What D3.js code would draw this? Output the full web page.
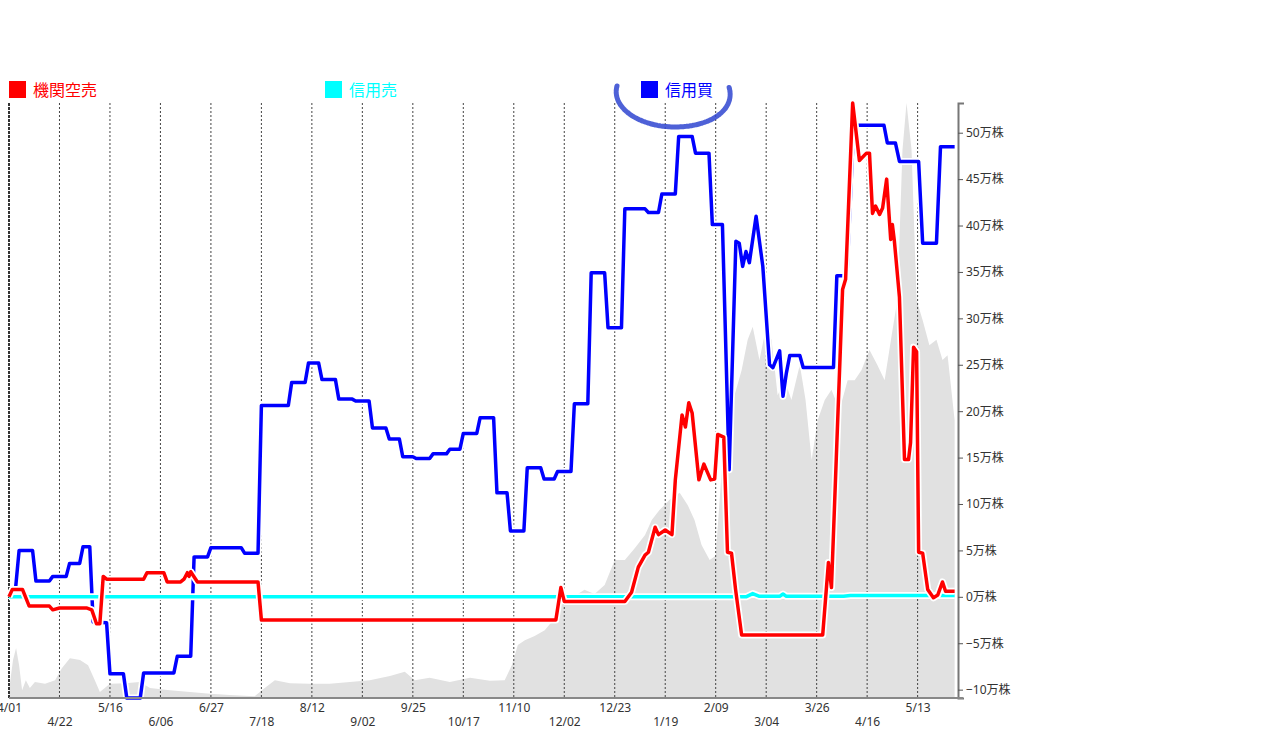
<!DOCTYPE html>
<html>
<head>
<meta charset="utf-8">
<script src="https://cdn.jsdelivr.net/npm/d3@7"></script>
<style>
  body { margin: 0; background: #fff; }
  text { font-family: "Noto Sans", "Noto Sans CJK JP", sans-serif; }
</style>
</head>
<body>
<div id="chart"></div>
<script>
// x = trading-day index from 4/01, y = 万株
const dateLabels = ["4/01","4/22","5/16","6/06","6/27","7/18","8/12","9/02","9/25","10/17",
                    "11/10","12/02","12/23","1/19","2/09","3/04","3/26","4/16","5/13"];
const dateIdx = [0,15,30,45,60,75,90,105,120,135,150,165,180,195,210,225,240,255,270];
const yTicks = [-10,-5,0,5,10,15,20,25,30,35,40,45,50];

const seriesNames = ["機関空売","信用売","信用買"];
const seriesColors = ["#ff0000","#00ffff","#0000ff"];

// 機関空売
const kikanSell = [
  [0,0],[1,0.8],[4,0.8],[6,-1.0],[12,-1.0],[13,-1.4],[15,-1.2],[23,-1.2],[24.6,-1.4],[26,-2.9],[27,-2.9],
  [28,2.2],[29,1.9],[40,1.9],[41,2.6],[46,2.6],[47,1.6],[51,1.6],[52,1.9],[53,2.6],[53.5,2.2],[54,2.7],
  [56,1.6],[74,1.6],[75,-2.5],[162.5,-2.5],[164,1.0],[165,-0.5],[183,-0.5],[185,0.5],[187,3.2],[189,4.5],
  [190,4.8],[192,7.5],[193,6.7],[195,7.2],[197,6.7],[198,12.6],[200,19.6],[201,18.3],[202,20.9],[203,19.8],
  [205,12.6],[206.5,14.3],[208.5,12.6],[209.7,12.7],[210.6,17.5],[212.4,17.2],[213.5,4.8],[214.7,4.7],
  [215.9,0.8],[217.7,-4.1],[241.8,-4.1],[243.5,3.7],[244.4,1.0],[247.7,33.1],[248.6,34.2],[250.7,53.2],
  [252.7,47.0],[254.8,47.8],[255.7,47.8],[256.6,41.3],[257.5,42.1],[258.7,41.2],[259.6,41.9],[260.8,45.0],
  [262.0,38.5],[262.5,40.1],[263.1,38.3],[264.6,32.3],[266.1,14.8],[267.3,14.8],[267.9,16.6],[268.8,26.9],
  [269.7,26.4],[270.3,4.8],[271.5,4.7],[273,0.8],[274.7,-0.1],[276,0.2],[277.4,1.6],[278.3,0.6],[281,0.6]
];

// 信用売
const shinyoSell = [
  [0,0],[219,0],[221,0.35],[223,0.05],[229,0.05],[230,0.3],[231,0.05],[248,0.05],[250,0.15],[281,0.15]
];

// 信用買
const shinyoBuy = [
  [2,1.1],[3,5.0],[7,5.0],[8,1.7],[12,1.7],[13,2.2],[17,2.2],[18,3.6],[21,3.6],[22,5.4],[24,5.4],
  [25,-2.7],[29,-2.8],[30,-8.3],[34,-8.3],[35,-10.9],[39,-10.9],[40,-8.2],[49,-8.2],[50,-6.4],[54,-6.4],
  [55,4.3],[59,4.3],[60,5.3],[69,5.3],[70,4.7],[74,4.7],[75,20.6],[83,20.6],[84,23.1],[88,23.1],[89,25.2],
  [92,25.2],[93,23.4],[97,23.4],[98,21.3],[102,21.3],[103,21.1],[107,21.1],[108,18.2],[112,18.2],[113,17.0],
  [116,17.0],[117,15.1],[120,15.1],[121,14.9],[125,14.9],[126,15.4],[130,15.4],[131,15.9],[134,15.9],
  [135,17.6],[139,17.6],[140,19.3],[144,19.3],[145,11.2],[148,11.2],[149,7.1],[153,7.1],[154,13.9],
  [158,13.9],[159,12.7],[162,12.7],[163,13.5],[167,13.5],[168,20.8],[172,20.8],[173,34.9],[177,34.9],
  [178,29.0],[182,29.0],[183,41.8],[189,41.8],[190,41.4],[193,41.4],[194,43.4],[198,43.4],[199,49.6],
  [203,49.6],[204,47.8],[208,47.8],[209,40.1],[212,40.1],[214,13.7],[216,38.3],[217,38.1],[218,35.6],
  [219,37.2],[220,36.0],[222,41.0],[224,35.6],[226,25.0],[227,24.7],[229,26.5],[230,21.6],[231,24.1],
  [232,26.0],[235,26.0],[236,24.7],[245,24.7],[246,34.6],[249,34.6],[251,50.8],[260,50.8],[261,48.9],
  [263.4,48.9],[264.6,46.9],[270.3,46.9],[271.5,38.1],[275.6,38.1],[276.8,48.5],[281,48.5]
];

// background volume (relative, 0-100)
const volume = [
  [0,1.3],[1.2,6.4],[2.1,8.4],[3,5.5],[3.9,1.3],[5,3.0],[6.2,1.7],[7.7,2.7],[10.7,2.4],[13.7,3.0],
  [15.7,5.0],[18.1,6.7],[21.1,6.4],[23.5,5.5],[25.5,3.0],[27,1.0],[30,2.4],[34.5,2.5],[38.9,2.7],
  [41.9,1.7],[47.8,1.3],[53.8,1.0],[59.7,0.7],[65.6,0.5],[73,0.3],[76,1.7],[79,3.0],[83.5,2.5],
  [89.4,2.4],[95.3,2.4],[101.3,2.7],[107.2,3.0],[113.2,3.7],[117.6,4.4],[120.6,3.0],[125,3.4],
  [131,2.7],[137,3.4],[142.9,2.9],[147.3,3.0],[149.4,5.5],[151.2,8.9],[153.3,9.7],[156.2,10.4],
  [159.2,11.4],[161.3,12.8],[163,15.1],[165.1,16.5],[168,17.1],[171,18.2],[174,17.5],[177,19.0],
  [180,23.2],[183,23.2],[186,25.2],[189,27.4],[191,29.9],[193.3,31.6],[196.3,33.3],[199.3,34.5],
  [201.7,32.4],[203.7,29.9],[205.8,25.7],[208.2,23.2],[210,23.9],[211.8,38.3],[213.5,45.0],
  [215.6,50.9],[217.7,55.1],[219.5,60.2],[221,62.4],[223,56.8],[224.8,61.8],[226.6,60.2],[228.4,50.9],
  [230.5,53.4],[232.5,50.1],[235,56.0],[236.7,50.1],[238.5,40.0],[240.3,46.7],[242.4,50.1],[244.4,51.8],
  [246.8,48.4],[249.2,53.4],[251.3,53.4],[253.3,55.1],[255.7,58.5],[258,56.0],[260.2,53.4],[262.3,61.0],
  [264,66.9],[265.5,92.1],[266.7,100],[268.2,92.1],[269.7,66.9],[271.5,63.5],[273.5,59.3],[275.6,60.2],
  [277.4,56.8],[278.9,57.6],[281,46.7]
];

const W = 1280, H = 752;
const plot = { left: 9, right: 958, top: 103, bottom: 698 };

const svg = d3.select("#chart").append("svg")
    .attr("width", W)
    .attr("height", H);

const x = d3.scaleLinear().domain([0, 282]).range([plot.left, plot.right]);
const y = d3.scaleLinear().domain([-10.9, 53.2]).range([plot.bottom, plot.top]);
const yVol = d3.scaleLinear().domain([0, 100]).range([plot.bottom, plot.top]);

// volume area
svg.append("path")
    .datum(volume)
    .attr("fill", "#e1e1e1")
    .attr("d", d3.area().x(d => x(d[0])).y0(plot.bottom).y1(d => yVol(d[1])));

// dotted gridlines
svg.append("g").selectAll("line")
    .data(dateIdx)
    .join("line")
    .attr("x1", d => x(d)).attr("x2", d => x(d))
    .attr("y1", plot.top).attr("y2", plot.bottom)
    .attr("stroke", "#444")
    .attr("stroke-width", 1)
    .attr("stroke-dasharray", "2,2");

// left edge is a bit heavier
svg.append("line")
    .attr("x1", plot.left).attr("x2", plot.left)
    .attr("y1", plot.top).attr("y2", plot.bottom)
    .attr("stroke", "#333").attr("stroke-width", 2).attr("stroke-dasharray", "3,1");

// lines: blue bottom, then cyan, red on top; white halo under each
const line = d3.line().x(d => x(d[0])).y(d => y(d[1]));
const drawOrder = [[shinyoBuy, 2], [shinyoSell, 1], [kikanSell, 0]];
drawOrder.forEach(([data, k]) => {
    svg.append("path").datum(data)
        .attr("fill", "none").attr("stroke", "#fff")
        .attr("stroke-width", 7).attr("stroke-linejoin", "round")
        .attr("d", line);
    svg.append("path").datum(data)
        .attr("fill", "none").attr("stroke", seriesColors[k])
        .attr("stroke-width", 3.5).attr("stroke-linejoin", "round")
        .attr("d", line);
});

// right axis
const yAxis = svg.append("g")
    .attr("transform", `translate(${plot.right},0)`)
    .call(d3.axisRight(y).tickValues(yTicks).tickSize(5).tickSizeOuter(6)
        .tickFormat(d => d3.format("d")(d) + "万株"));
yAxis.select(".domain").attr("stroke", "#777").attr("stroke-width", 2);
yAxis.selectAll(".tick line").attr("stroke", "#555");
yAxis.selectAll(".tick text").attr("fill", "#333").style("font-size", "12px");

// bottom axis, labels staggered over two rows
const xAxis = svg.append("g")
    .attr("transform", `translate(0,${plot.bottom})`)
    .call(d3.axisBottom(x).tickValues(dateIdx).tickSize(0).tickSizeOuter(0)
        .tickFormat((d, i) => dateLabels[i]));
xAxis.select(".domain").attr("stroke", "#888").attr("stroke-width", 2)
    .attr("d", `M${plot.left},0H${plot.right + 5}`);
xAxis.selectAll(".tick text")
    .attr("fill", "#333")
    .style("font-size", "12px")
    .attr("y", (d, i) => i % 2 === 0 ? 5 : 19);

// legend
const legendX = [9, 325, 641];
const legend = svg.append("g").selectAll("g")
    .data(seriesNames)
    .join("g")
    .attr("transform", (d, i) => `translate(${legendX[i]},81)`);
legend.append("rect")
    .attr("width", 17).attr("height", 17)
    .attr("fill", (d, i) => seriesColors[i]);
legend.append("text")
    .attr("x", 24).attr("y", 15)
    .attr("fill", (d, i) => seriesColors[i])
    .style("font-size", "16px")
    .text(d => d);

// hand-drawn circle around 信用買
svg.append("path")
    .attr("d", "M617,86 C611,108 640,127 675,127 C710,127 736,110 729,87")
    .attr("fill", "none")
    .attr("stroke", "#2f45d0")
    .attr("stroke-width", 5)
    .attr("stroke-dasharray", "2,1")
    .attr("stroke-linecap", "round")
    .attr("opacity", 0.85);
</script>
</body>
</html>
